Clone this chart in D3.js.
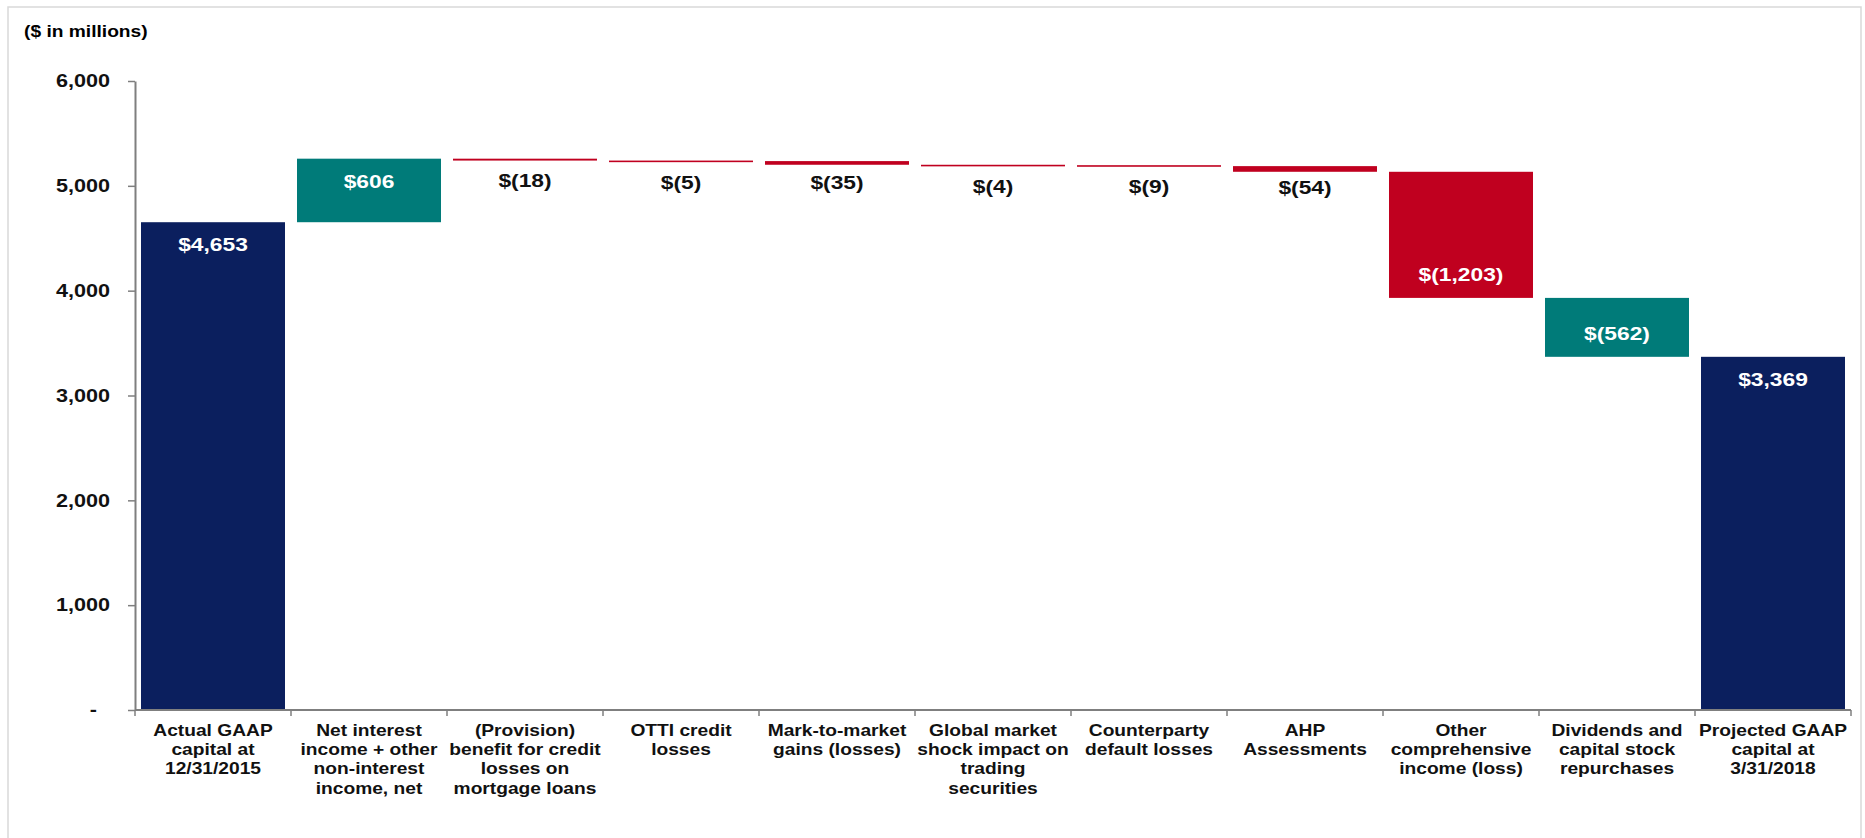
<!DOCTYPE html>
<html>
<head>
<meta charset="utf-8">
<script src="https://cdn.jsdelivr.net/npm/d3@7"></script>
<style>
  body { margin: 0; background: #fff; }
  text { font-family: "Liberation Sans", Arial, sans-serif; font-weight: bold; }
</style>
</head>
<body>
<div id="chart"></div>
<script>
// categories and values ($ in millions)
var categories = [
  ["Actual GAAP", "capital at", "12/31/2015"],
  ["Net interest", "income + other", "non-interest", "income, net"],
  ["(Provision)", "benefit for credit", "losses on", "mortgage loans"],
  ["OTTI credit", "losses"],
  ["Mark-to-market", "gains (losses)"],
  ["Global market", "shock impact on", "trading", "securities"],
  ["Counterparty", "default losses"],
  ["AHP", "Assessments"],
  ["Other", "comprehensive", "income (loss)"],
  ["Dividends and", "capital stock", "repurchases"],
  ["Projected GAAP", "capital at", "3/31/2018"]
];
var values = [4653, 606, -18, -5, -35, -4, -9, -54, -1203, -562, 3369];
var isTotal = [true, false, false, false, false, false, false, false, false, false, true];
var barColors = ["#0b1f5e", "#007b79", "#c0001f", "#c0001f", "#c0001f", "#c0001f",
                 "#c0001f", "#c0001f", "#c0001f", "#007b79", "#0b1f5e"];
var yTicks = [0, 1000, 2000, 3000, 4000, 5000, 6000];

var W = 1865, H = 838;
var sx = 1.2; // source picture is stretched horizontally

var svg = d3.select("#chart")
  .append("svg")
    .attr("width", W)
    .attr("height", H);

// light frame
svg.append("path")
  .attr("d", "M8," + H + " V7 H1861 V" + H)
  .attr("fill", "none")
  .attr("stroke", "#d9d9d9")
  .attr("stroke-width", 1.5);

svg.append("text")
  .attr("transform", "translate(24,37) scale(" + sx + ",1)")
  .style("font-size", "16px")
  .text("($ in millions)");

var X = d3.scaleBand()
    .domain(d3.range(categories.length))
    .range([135, 1851])
    .paddingInner(0.077)
    .paddingOuter(0.0385);

var Y = d3.scaleLinear()
    .domain([0, 6000])
    .range([710, 81]);

// compute waterfall steps
var running = 0;
var steps = values.map(function(v, i) {
  var lo, hi;
  if (isTotal[i]) { lo = 0; hi = v; running = v; }
  else { var s = running; running = s + v; lo = Math.min(s, running); hi = Math.max(s, running); }
  return {i: i, v: v, lo: lo, hi: hi};
});

// bars
svg.selectAll("rect.bar")
  .data(steps)
  .enter()
  .append("rect")
    .attr("class", "bar")
    .attr("x", function(d) { return X(d.i); })
    .attr("width", X.bandwidth())
    .attr("y", function(d) { return Y(d.hi); })
    .attr("height", function(d) { return Math.max(1.6, Y(d.lo) - Y(d.hi)); })
    .style("fill", function(d) { return barColors[d.i]; });

// y axis
var yAxis = svg.append("g")
  .attr("transform", "translate(135,0)")
  .call(d3.axisLeft(Y)
    .tickValues(yTicks)
    .tickSize(7)
    .tickSizeOuter(0)
    .tickFormat(function(d) { return d === 0 ? "-" : d3.format(",")(d); }));
yAxis.select(".domain").attr("stroke", "#7f7f7f").attr("stroke-width", 2);
yAxis.selectAll(".tick line").attr("stroke", "#7f7f7f").attr("stroke-width", 1.5);
yAxis.selectAll(".tick text")
  .attr("x", 0)
  .attr("fill", "#111")
  .style("font-size", "18px")
  .style("font-family", "'Liberation Sans', Arial, sans-serif")
  .style("font-weight", "bold")
  .attr("transform", function(d) { return "translate(" + (d === 0 ? -38 : -25) + ",0) scale(" + sx + ",1)"; });

// x axis line and boundary ticks
svg.append("line")
  .attr("x1", 135).attr("x2", 1851)
  .attr("y1", Y(0)).attr("y2", Y(0))
  .attr("stroke", "#7f7f7f")
  .attr("stroke-width", 2);
var bounds = d3.range(categories.length + 1).map(function(k) { return 135 + k * X.step(); });
svg.selectAll("line.xtick")
  .data(bounds)
  .enter()
  .append("line")
    .attr("class", "xtick")
    .attr("x1", function(d) { return d; })
    .attr("x2", function(d) { return d; })
    .attr("y1", Y(0))
    .attr("y2", Y(0) + 6)
    .attr("stroke", "#7f7f7f")
    .attr("stroke-width", 1.5);

// category labels
var catG = svg.selectAll("g.cat")
  .data(categories)
  .enter()
  .append("g")
    .attr("class", "cat");
catG.selectAll("text")
  .data(function(lines, i) { return lines.map(function(t, k) { return {t: t, k: k, i: i}; }); })
  .enter()
  .append("text")
    .attr("text-anchor", "middle")
    .attr("transform", function(d) {
      return "translate(" + (X(d.i) + X.bandwidth() / 2) + "," + (736 + d.k * 19.2) + ") scale(" + sx + ",1)";
    })
    .attr("fill", "#111")
    .style("font-size", "16px")
    .text(function(d) { return d.t; });

// value labels
var fmt = d3.format(",");
svg.selectAll("text.val")
  .data(steps)
  .enter()
  .append("text")
    .attr("class", "val")
    .attr("text-anchor", "middle")
    .attr("transform", function(d) {
      var h = Y(d.lo) - Y(d.hi), ty;
      if (h < 30) ty = Y(d.hi) + 28;
      else if (d.v < 0) ty = Y(d.lo) - 17;
      else ty = Y(d.hi) + 29;
      return "translate(" + (X(d.i) + X.bandwidth() / 2) + "," + ty + ") scale(" + sx + ",1)";
    })
    .attr("fill", function(d) { return (Y(d.lo) - Y(d.hi)) < 30 ? "#111" : "#fff"; })
    .style("font-size", "19px")
    .text(function(d) { return d.v < 0 ? "$(" + fmt(-d.v) + ")" : "$" + fmt(d.v); });
</script>
</body>
</html>
